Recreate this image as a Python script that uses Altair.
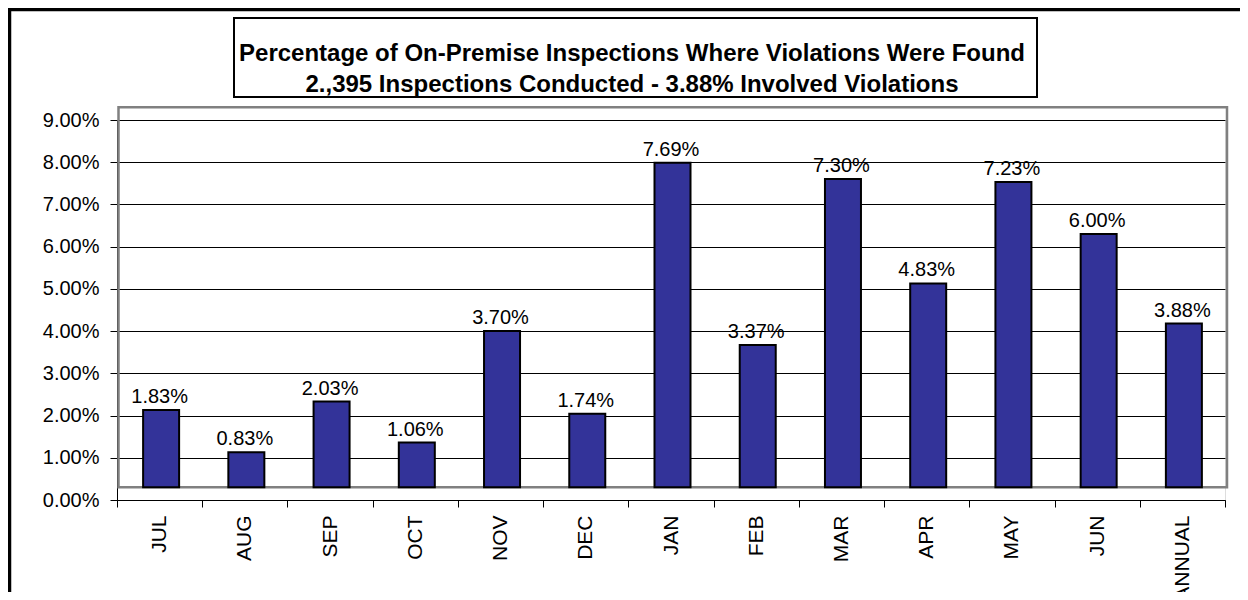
import altair as alt
import pandas as pd

# ---- data -------------------------------------------------------------
MONTHS = ["JUL", "AUG", "SEP", "OCT", "NOV", "DEC", "JAN",
          "FEB", "MAR", "APR", "MAY", "JUN", "ANNUAL"]
VIOLATION_RATE = [0.0183, 0.0083, 0.0203, 0.0106, 0.0370, 0.0174, 0.0769,
                  0.0337, 0.0730, 0.0483, 0.0723, 0.0600, 0.0388]
Y_TICKS = [0.00, 0.01, 0.02, 0.03, 0.04, 0.05, 0.06, 0.07, 0.08, 0.09]
TITLE_LINES = [
    "Percentage of On-Premise Inspections Where Violations Were Found",
    "2.,395 Inspections Conducted - 3.88% Involved Violations",
]

# ---- style ------------------------------------------------------------
FONT = "Liberation Sans"
W, H = 1108, 380
Y_MAX = 0.09
DEPTH = 0.003          # 3-D floor depth (Excel look)
BAR_COLOR = "#333399"
WALL = "#C0C0C0"
FRAME = "#808080"

df = pd.DataFrame({"month": MONTHS, "value": VIOLATION_RATE})
ticks_df = pd.DataFrame({"t": Y_TICKS})
one = alt.Data(values=[{}])

x_enc = alt.X(
    "month:N", sort=MONTHS,
    scale=alt.Scale(paddingInner=0, paddingOuter=0),
    axis=alt.Axis(title=None, labelAngle=-90, labelFont=FONT, labelFontSize=21,
                  labelColor="black", tickColor="black", domainColor="black",
                  tickSize=7, labelPadding=8, tickBand="extent", grid=False),
)

axis_scale = alt.Scale(domain=[0, Y_MAX], nice=False, zero=False)
bar_scale = alt.Scale(domain=[-DEPTH, Y_MAX - DEPTH], nice=False, zero=False)

# invisible layer carrying the y axis + gridlines
axis_layer = alt.Chart(ticks_df).mark_point(opacity=0).encode(
    y=alt.Y("t:Q", scale=axis_scale,
            axis=alt.Axis(values=Y_TICKS, format=".2%", title=None, grid=True,
                          gridColor="black", gridWidth=1, gridOpacity=1,
                          tickSize=7, labelPadding=11, labelFont=FONT,
                          labelFontSize=20, labelColor="black",
                          tickColor="black", domainColor="black")),
)

# grey 3-D frame of the walls
frame = alt.Chart(one).mark_rect(filled=False, stroke=FRAME, strokeWidth=2.5).encode(
    x=alt.value(1.5), x2=alt.value(W + 2),
    y=alt.YDatum(Y_MAX + DEPTH, scale=axis_scale),
    y2=alt.Y2Datum(DEPTH),
)

back = alt.layer(axis_layer, frame)

bars = alt.Chart(df).mark_bar(size=36, color=BAR_COLOR, stroke="black",
                              strokeWidth=2, xOffset=1.5).encode(
    x=x_enc,
    y=alt.Y("value:Q", scale=bar_scale, axis=None),
)

labels = alt.Chart(df).mark_text(baseline="bottom", dy=-3, font=FONT,
                                 fontSize=20, color="black").encode(
    x=x_enc,
    y=alt.Y("value:Q", scale=bar_scale, axis=None),
    text=alt.Text("value:Q", format=".2%"),
)

front = alt.layer(bars, labels)

# title box
title_box = alt.Chart(one).mark_rect(filled=False, stroke="black", strokeWidth=2).encode(
    x=alt.value(117), x2=alt.value(920), y=alt.value(-102), y2=alt.value(-23),
)
title1 = alt.Chart(one).mark_text(font=FONT, fontSize=24, fontWeight="bold",
                                  align="center", baseline="alphabetic",
                                  color="black").encode(
    x=alt.value(515), y=alt.value(-59), text=alt.value(TITLE_LINES[0]))
title2 = alt.Chart(one).mark_text(font=FONT, fontSize=24, fontWeight="bold",
                                  align="center", baseline="alphabetic",
                                  color="black").encode(
    x=alt.value(515), y=alt.value(-28), text=alt.value(TITLE_LINES[1]))

# outer chart border (top + left)
border_top = alt.Chart(one).mark_rule(color="black", strokeWidth=3.5).encode(
    x=alt.value(-110), x2=alt.value(W + 40), y=alt.value(-110.5))
border_left = alt.Chart(one).mark_rule(color="black", strokeWidth=3.5).encode(
    x=alt.value(-107.5), y=alt.value(-112), y2=alt.value(H + 120))

chart = alt.layer(
    back, front, title_box, title1, title2, border_top, border_left
).resolve_scale(y="independent").properties(
    width=W, height=H,
    autosize=alt.AutoSizeParams(type="none"),
    padding={"left": 109, "top": 112, "right": 15, "bottom": 92},
).configure_view(fill=WALL, stroke=None).configure(background="white")

chart.save("out.html", embed_options={"renderer": "svg", "actions": False})
